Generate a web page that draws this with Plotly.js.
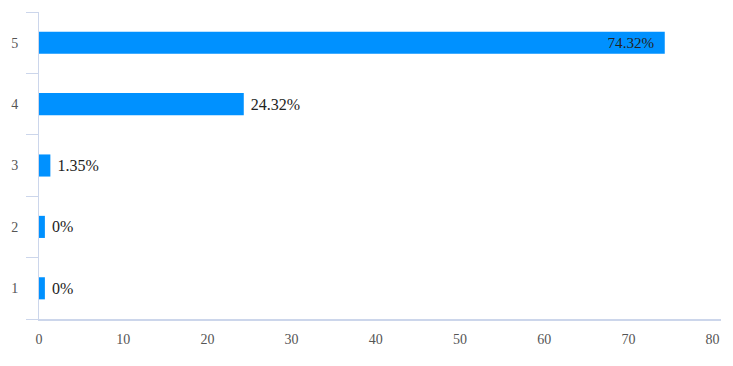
<!DOCTYPE html>
<html>
<head>
<meta charset="utf-8">
<script src="https://cdn.plot.ly/plotly-3.0.1.min.js"></script>
<style>html,body{margin:0;padding:0;background:#fff;}#chart{width:733px;height:366px;}</style>
</head>
<body>
<div id="chart"></div>
<script>
const categories = ['1', '2', '3', '4', '5'];
const values = [0, 0, 1.35, 24.32, 74.32];
const labels = ['0%', '0%', '1.35%', '24.32%', '74.32%'];
const xTicks = [0, 10, 20, 30, 40, 50, 60, 70, 80];

const minBar = 0.7; // minimum visible bar length (style)
const shown = values.map(v => Math.max(v, minBar));
const positions = values.map(v => v > 50 ? 'inside' : 'outside');
const padded = labels.map((t, i) => positions[i] === 'inside' ? t + '\u00a0\u00a0' : '\u00a0' + t);

const trace = {
  type: 'bar',
  orientation: 'h',
  y: categories,
  x: shown,
  text: padded,
  textposition: positions,
  insidetextanchor: 'end',
  textfont: {family: 'Liberation Serif', size: 16, color: '#222'},
  insidetextfont: {family: 'Liberation Serif', size: 16, color: '#222'},
  outsidetextfont: {family: 'Liberation Serif', size: 16, color: '#222'},
  cliponaxis: false,
  marker: {color: '#0091ff'},
  hoverinfo: 'none'
};

const layout = {
  width: 733, height: 366,
  margin: {l: 39, r: 12, t: 12, b: 47},
  paper_bgcolor: '#fff', plot_bgcolor: '#fff',
  bargap: 0.64,
  showlegend: false,
  xaxis: {
    range: [0, 81],
    tickvals: xTicks,
    ticktext: xTicks.map(String),
    showgrid: false, zeroline: false,
    showline: true, linecolor: '#ccd6eb', linewidth: 2,
    ticks: 'outside', ticklen: 6, tickcolor: 'rgba(0,0,0,0)',
    tickfont: {family: 'Liberation Serif', size: 14, color: '#555'}
  },
  yaxis: {
    type: 'category',
    categoryorder: 'array', categoryarray: categories,
    range: [-0.5, 4.5],
    tickson: 'boundaries',
    showgrid: false, zeroline: false,
    showline: true, linecolor: '#ccd6eb', linewidth: 1,
    ticks: 'outside', ticklen: 12, tickcolor: '#ccd6eb',
    ticklabelstandoff: 17,
    tickfont: {family: 'Liberation Serif', size: 14, color: '#555'}
  }
};

Plotly.newPlot('chart', [trace], layout, {staticPlot: true, displayModeBar: false});
</script>
</body>
</html>
